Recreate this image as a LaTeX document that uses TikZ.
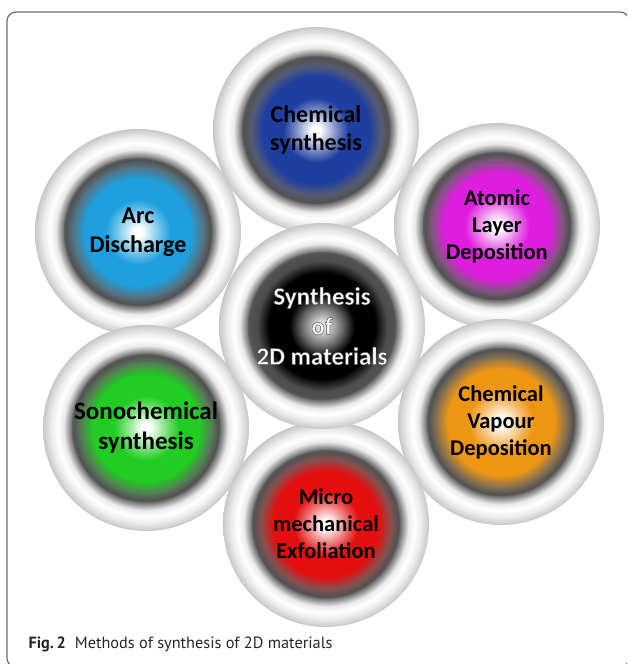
\documentclass[tikz,border=0pt]{standalone}
\usepackage{fontspec}
\setmainfont{Carlito}
\newfontfamily\captionfont{PT Sans}

% outlined white text (fill + dark stroke)
\newcommand\outlined[1]{\special{pdf:literal direct 2 Tr 0.45 w 0.3 G}#1\special{pdf:literal direct 0 Tr}}

\definecolor{framegray}{RGB}{110,110,110}
\definecolor{chemblue}{RGB}{30,62,160}
\definecolor{arcblue}{RGB}{30,160,222}
\definecolor{aldpink}{RGB}{222,30,222}
\definecolor{cvdorange}{RGB}{238,150,20}
\definecolor{microred}{RGB}{228,16,16}
\definecolor{sonogreen}{RGB}{32,205,32}

\pgfdeclareradialshading{outerring}{\pgfpoint{0bp}{0bp}}{%
  color(0bp)=(black!70); color(17.5bp)=(black!70); color(18.5bp)=(black!45);
  color(20bp)=(black!8); color(21.5bp)=(white); color(23bp)=(white!93!black);
  color(25bp)=(black!22); color(50bp)=(black!22)}

\newcommand\coreshading[3]{%
  \pgfdeclareradialshading{#1}{\pgfpoint{0bp}{0bp}}{%
    color(0bp)=(#3); color(1.5bp)=(#3); color(7bp)=(white!40!#2);
    color(11bp)=(#2); color(18bp)=(#2); color(22bp)=(#2!35!black!70);
    color(24.5bp)=(black!68); color(25bp)=(black!62); color(50bp)=(black!62)}}

\coreshading{chemcore}{chemblue}{white}
\coreshading{arccore}{arcblue}{white}
\coreshading{aldcore}{aldpink}{white}
\coreshading{cvdcore}{cvdorange}{white}
\coreshading{microcore}{microred}{white}
\coreshading{sonocore}{sonogreen}{white}
\coreshading{maincore}{black}{black!12}

\tikzset{
  methodring/.style={circle, minimum size=206pt, inner sep=0pt, shade, shading=outerring},
  methodcore/.style={circle, minimum size=148pt, inner sep=0pt, shade, shading=#1},
  methodtext/.style 2 args={align=center, text=black, font=\bfseries\fontsize{#1}{#2}\selectfont},
}

\begin{document}
\begin{tikzpicture}[x=1pt, y=-1pt]
\useasboundingbox (0,0) rectangle (627,664);
\clip (0,0) rectangle (627,664);
\draw[framegray, line width=1.2pt, rounded corners=9pt] (7,12) rectangle (629,667);

\node[methodring] (chem ring) at (316,130) {};
\node[methodcore=chemcore] (chem) at (chem ring) {};
\node[methodtext={24}{28.5}] (chem text) at (chem) {Chemical\\synthesis};

\node[methodring] (arc ring) at (138,232) {};
\node[methodcore=arccore] (arc) at (arc ring) {};
\node[methodtext={24}{28.5}] (arc text) at (arc) {Arc\\Discharge};

\node[methodring] (ald ring) at (497,226) {};
\node[methodcore=aldcore] (ald) at (ald ring) {};
\node[methodtext={22.5}{27}] (ald text) at (ald) {Atomic\\Layer\\Deposition};

\node[methodring] (sono ring) at (146,428) {};
\node[methodcore=sonocore] (sono) at (sono ring) {};
\node[methodtext={25}{30}] (sono text) at (sono) {Sonochemical\\synthesis};

\node[methodring] (cvd ring) at (501,422) {};
\node[methodcore=cvdcore] (cvd) at (cvd ring) {};
\node[methodtext={22.5}{27}] (cvd text) at (cvd) {Chemical\\Vapour\\Deposition};

\node[methodring] (micro ring) at (326,524) {};
\node[methodcore=microcore] (micro) at (micro ring) {};
\node[methodtext={22.5}{27}] (micro text) at (micro) {Micro\\mechanical\\Exfoliation};

\node[methodring] (main ring) at (322,326) {};
\node[methodcore=maincore] (main) at (main ring) {};
\node[methodtext={25}{30}, text=white] (main text) at (main)
  {\outlined{Synthesis}\\\outlined{of}\\\outlined{2D materials}};

\node[anchor=base west, text=black!85, font=\captionfont\fontsize{16.3}{19}\selectfont] (caption) at (25,648)
  {\textbf{Fig.\,2}\hspace{0.55em}Methods of synthesis of 2D materials};
\end{tikzpicture}
\end{document}
